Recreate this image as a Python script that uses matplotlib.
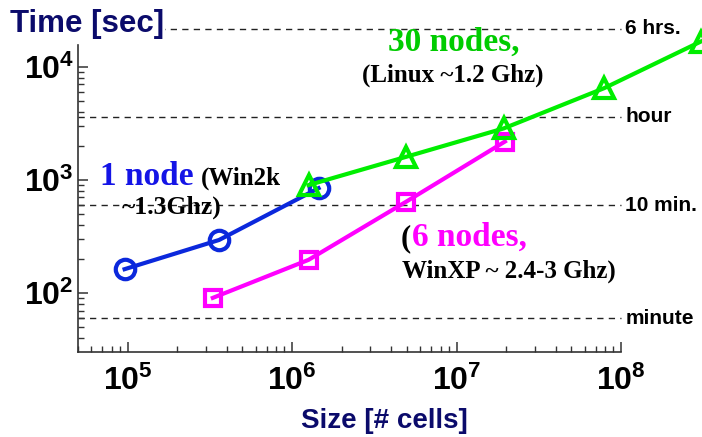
import math
import matplotlib
matplotlib.use('Agg')
import matplotlib.pyplot as plt
from matplotlib.ticker import FuncFormatter, LogLocator

# timing data
one_node_size = [9.6e4, 3.6e5, 1.45e6]
one_node_time = [163, 295, 845]

six_nodes_size = [3.3e5, 1.26e6, 4.95e6, 1.97e7]
six_nodes_time = [91, 197, 643, 2180]

thirty_nodes_size = [1.26e6, 4.95e6, 1.94e7, 7.9e7, 3.05e8]
thirty_nodes_time = [900, 1600, 2850, 6450, 16600]

ref_times = [60, 600, 3600, 21600]
ref_labels = ['minute', '10 min.', 'hour', '6 hrs.']

plt.rcParams['font.family'] = ['Liberation Sans', 'DejaVu Sans']
plt.rcParams['mathtext.fontset'] = 'custom'
plt.rcParams['mathtext.rm'] = 'Liberation Sans:bold'
plt.rcParams['mathtext.bf'] = 'Liberation Sans:bold'
plt.rcParams['mathtext.it'] = 'Liberation Sans:bold'

W, H = 702, 437
fig = plt.figure(figsize=(W / 100, H / 100), dpi=100)
ax = fig.add_axes([78 / W, (H - 352) / H, 543 / W, 307 / H])
ax.set_xscale('log')
ax.set_yscale('log')
ax.set_xlim(5e4, 1e8)
ax.set_ylim(30.3, 15500)

navy = '#0b0b6b'
blue = '#0b28dc'
green = '#00ee00'
magenta = '#ff00ff'
axcol = '#333333'

# reference time lines
for t, lab in zip(ref_times, ref_labels):
    ax.axhline(t, 0, 1, color='#222222', lw=1.0, ls=(0, (4.5, 3.8)),
               clip_on=False, zorder=1)
    ax.text(1.008, t, lab, transform=ax.get_yaxis_transform(),
            fontsize=15, fontweight='bold', va='center', ha='left')

ax.plot(one_node_size, one_node_time, color=blue, lw=3, marker='o',
        ms=14, mew=3, mfc='none', clip_on=False, zorder=3)
ax.plot(six_nodes_size, six_nodes_time, color=magenta, lw=3, marker='s',
        ms=11, mew=3, mfc='none', clip_on=False, zorder=3)
ax.plot(thirty_nodes_size, thirty_nodes_time, color=green, lw=3, marker='^',
        ms=14, mew=3, mfc='none', clip_on=False, zorder=4)

for s in ['top', 'right']:
    ax.spines[s].set_visible(False)
for s in ['left', 'bottom']:
    ax.spines[s].set_color(axcol)
    ax.spines[s].set_linewidth(1.2)

ax.xaxis.set_major_locator(LogLocator(base=10, numticks=10))
ax.yaxis.set_major_locator(LogLocator(base=10, numticks=10))
ax.xaxis.set_minor_locator(LogLocator(base=10, subs=range(2, 10), numticks=20))
ax.yaxis.set_minor_locator(LogLocator(base=10, subs=range(2, 10), numticks=20))
fmt = FuncFormatter(lambda v, p: r'$\mathbf{10^{%d}}$' % round(math.log10(v)))
ax.xaxis.set_major_formatter(fmt)
ax.yaxis.set_major_formatter(fmt)
ax.tick_params(which='major', direction='in', length=7, width=1.1, color=axcol,
               labelsize=23)
ax.tick_params(which='minor', direction='in', length=4, width=1.0, color=axcol)
ax.tick_params(axis='x', which='major', pad=10)
ax.tick_params(axis='y', which='major', pad=3)


def ftext(x, y, s, **kw):
    return fig.text(x / W, 1 - y / H, s, **kw)


ftext(10, 24, 'Time [sec]', fontsize=22.5, fontweight='bold', color=navy,
      va='center', ha='left',
      bbox=dict(facecolor='white', edgecolor='none', pad=1))
ftext(384, 421, 'Size [# cells]', fontsize=20, fontweight='bold', color=navy,
      va='center', ha='center')

serif = ['Liberation Serif', 'DejaVu Serif']
ftext(100, 185, '1 node', fontsize=24, fontweight='bold', color='#1414e6',
      family=serif, va='baseline')
ftext(201, 185, '(Win2k', fontsize=18, fontweight='bold', color='black',
      family=serif, va='baseline')
ftext(122, 214, '~1.3Ghz)', fontsize=18.5, fontweight='bold', color='black',
      family=serif, va='baseline')

ftext(388, 51, '30 nodes,', fontsize=24, fontweight='bold', color='#00cc00',
      family=serif, va='baseline')
ftext(362, 82, '(Linux ~1.2 Ghz)', fontsize=18, fontweight='bold',
      color='black', family=serif, va='baseline')

ftext(401, 246, '(', fontsize=22, fontweight='bold', color='black',
      family=serif, va='baseline')
ftext(412, 246, '6 nodes,', fontsize=24, fontweight='bold', color=magenta,
      family=serif, va='baseline')
ftext(402, 278, 'WinXP ~ 2.4-3 Ghz)', fontsize=18, fontweight='bold',
      color='black', family=serif, va='baseline')

fig.savefig('out.png', dpi=100)
